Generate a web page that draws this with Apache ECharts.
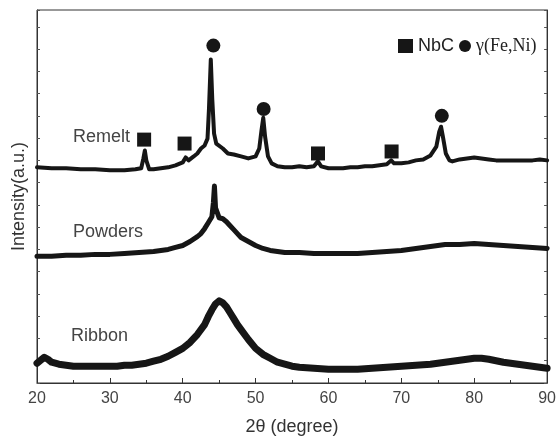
<!DOCTYPE html>
<html>
<head>
<meta charset="utf-8">
<script src="https://cdn.jsdelivr.net/npm/echarts@6/dist/echarts.min.js"></script>
<style>
html,body{margin:0;padding:0;background:#fff;}
#chart{width:559px;height:441px;}
</style>
</head>
<body>
<div id="chart"></div>
<script>
// 2θ positions (degree) and intensities (a.u., arbitrary offset units)
const remeltX = [20,22,24,26,28,30,32,33.5,34.3,34.6,34.8,35.0,35.4,36,37,38,39,40,40.4,40.8,41.5,42,42.5,43,43.4,43.6,43.85,44.05,44.3,44.6,45.5,46.2,47,48,49,50,50.5,50.8,51.05,51.3,51.7,52.2,53,54,55,56,57,58,58.55,59,60,61,62,63,64,65,66,67,68,68.6,69,70,71,72,73,74,74.8,75.2,75.45,75.7,76.1,76.6,77,78,79,80,81,82,83,84,85,86,87,88,89,90];
const remeltY = [218,217,217,216,216,215,215,216,217,227,235,225,216,216,217,218,220,223,228,225,229,232,237,240,247,277,327,287,252,242,237,232,231,229,227,229,237,255,268,249,229,222,219,218,218,219,218,219,224,219,217,217,217,218,218,219,219,220,221,225,222,222,223,225,226,230,239,254,259,249,232,225,224,226,227,228,227,226,225,225,225,225,225,225,226,225];

const powdersX = [20,22,24,26,28,30,32,34,36,37,38,39,40,41,42,42.5,43,43.5,44,44.2,44.35,44.5,45,45.5,46,46.5,47,47.5,48,49,50,51,52,53,54,56,58,60,62,64,66,68,70,72,74,76,78,80,82,84,86,88,90];
const powdersY = [128,128,129,129,130,130,131,132,133,134,135,137,139,143,148,151,156,162,168,182,199,177,167,166,163,159,155,151,147,143,139,136,134,133,132,132,131,131,131,131,132,133,134,136,138,140,140,141,140,139,138,137,136];

const ribbonX = [20,20.5,21,21.5,22,23,24,25,26,27,28,29,30,31,32,33,34,35,36,37,38,39,40,41,42,43,43.5,44,44.5,45,45.5,46,46.5,47,47.5,48,49,50,51,52,53,54,55,56,58,60,62,64,66,68,70,72,74,76,78,79,80,81,82,84,86,88,90];
const ribbonY = [20,23,26,24,21,19,18,17,17,17,17,17,17,17,18,18,19,20,22,24,27,31,35,41,49,59,67,74,80,83,81,77,71,65,59,54,44,35,29,25,21,19,17,16,15,14,14,14,15,16,17,18,19,21,23,24,25,25,24,21,19,17,15];

// peak markers
const nbcX = [34.7,40.25,58.56,68.66];
const nbcY = [246,242,232,234];
const gammaX = [44.2,51.1,75.55];
const gammaY = [341,277,270];

const xTicks = [20,30,40,50,60,70,80,90];

const zip = (xs, ys) => xs.map((x, i) => [x, ys[i]]);
const ink = '#161616';

const chart = echarts.init(document.getElementById('chart'));
const lineSeries = (name, xs, ys, w) => ({
  name, type: 'line', data: zip(xs, ys), showSymbol: false, symbol: 'none',
  lineStyle: { color: ink, width: w, join: 'round', cap: 'round' }, silent: true, z: 2
});

chart.setOption({
  animation: false,
  backgroundColor: '#fff',
  grid: { left: 37, right: 7, top: 10, bottom: 54, show: true, borderColor: '#333', borderWidth: 1 },
  legend: [
    { data: ['NbC'], left: 393, top: 32, icon: 'rect', itemWidth: 15, itemHeight: 14,
      textStyle: { fontFamily: 'Liberation Sans', fontSize: 18, color: '#222' } },
    { data: ['γ(Fe,Ni)'], left: 454, top: 32, icon: 'circle', itemWidth: 12, itemHeight: 12,
      textStyle: { fontFamily: 'Liberation Serif', fontSize: 18, color: '#222' } }
  ],
  xAxis: [{
    type: 'value', min: xTicks[0], max: xTicks[xTicks.length - 1], interval: 10,
    name: '2θ (degree)', nameLocation: 'middle', nameGap: 35,
    nameTextStyle: { fontFamily: 'Liberation Sans', fontSize: 18, color: '#333' },
    axisLine: { lineStyle: { color: '#333', width: 1 } },
    axisTick: { inside: true, length: 5, lineStyle: { color: '#333' } },
    minorTick: { show: true, splitNumber: 2, length: 3, lineStyle: { color: '#333' } },
    axisLabel: { fontFamily: 'Liberation Sans', fontSize: 16, color: '#444', margin: 8 },
    splitLine: { show: false }
  }],
  yAxis: [{
    type: 'value', min: 0, max: 377, interval: 22.5, position: 'left',
    name: 'Intensity(a.u.)', nameLocation: 'middle', nameGap: 9, nameRotate: 90,
    nameTextStyle: { fontFamily: 'Liberation Sans', fontSize: 18, color: '#333' },
    axisLine: { show: true, lineStyle: { color: '#333', width: 1 } },
    axisTick: { show: true, inside: true, length: 3, lineStyle: { color: '#555' } },
    axisLabel: { show: false }, splitLine: { show: false }
  }, {
    type: 'value', min: 0, max: 377, interval: 22.5, position: 'right',
    axisLine: { show: true, lineStyle: { color: '#333', width: 1 } },
    axisTick: { show: true, inside: true, length: 3, lineStyle: { color: '#555' } },
    axisLabel: { show: false }, splitLine: { show: false }
  }],
  graphic: [
    { type: 'text', left: 73, top: 128, style: { text: 'Remelt', font: '18px "Liberation Sans"', fill: '#444' } },
    { type: 'text', left: 73, top: 223, style: { text: 'Powders', font: '18px "Liberation Sans"', fill: '#444' } },
    { type: 'text', left: 71, top: 327, style: { text: 'Ribbon', font: '18px "Liberation Sans"', fill: '#444' } }
  ],
  series: [
    lineSeries('Remelt', remeltX, remeltY, 4),
    lineSeries('Powders', powdersX, powdersY, 5),
    lineSeries('Ribbon', ribbonX, ribbonY, 7),
    { name: 'NbC', type: 'scatter', symbol: 'rect', symbolSize: 14, data: zip(nbcX, nbcY),
      itemStyle: { color: ink, opacity: 1 }, z: 3 },
    { name: 'γ(Fe,Ni)', type: 'scatter', symbol: 'circle', symbolSize: 14, data: zip(gammaX, gammaY),
      itemStyle: { color: ink, opacity: 1 }, z: 3 }
  ]
});
</script>
</body>
</html>
